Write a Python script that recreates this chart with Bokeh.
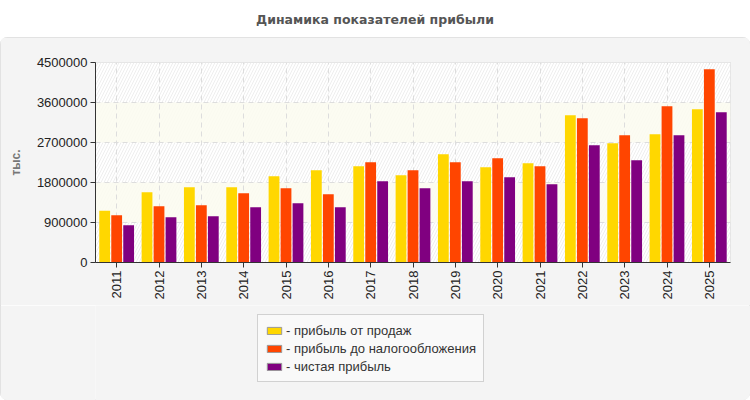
from math import pi

from bokeh.embed import file_html
from bokeh.layouts import column
from bokeh.models import (BoxAnnotation, ColumnDataSource, Div, FactorRange, FixedTicker,
                          Legend, LegendItem, NumeralTickFormatter, Range1d)
from bokeh.plotting import figure
from bokeh.resources import INLINE
from bokeh.transform import dodge

# Data (thousands)
years = [str(y) for y in range(2011, 2026)]
sales_profit = [1162500, 1582500, 1695000, 1695000, 1942500, 2077500, 2167500, 1965000,
                2437500, 2145000, 2235000, 3315000, 2685000, 2887500, 3450000]
pretax_profit = [1065000, 1267500, 1290000, 1560000, 1672500, 1537500, 2257500, 2077500,
                 2257500, 2347500, 2167500, 3247500, 2865000, 3517500, 4350000]
net_profit = [840000, 1020000, 1042500, 1245000, 1335000, 1245000, 1830000, 1672500,
              1830000, 1920000, 1762500, 2640000, 2302500, 2865000, 3382500]
y_ticks = [0, 900000, 1800000, 2700000, 3600000, 4500000]

title = "Динамика показателей прибыли"
unit_label = "тыс."
series_names = ["- прибыль от продаж", "- прибыль до налогообложения", "- чистая прибыль"]
colors = ["#FFD700", "#FF4500", "#800080"]

source = ColumnDataSource(dict(year=years, sales=sales_profit,
                               pretax=pretax_profit, net=net_profit))

FONT = "Liberation Sans"
PANEL = "#f4f4f4"

header = Div(text=title, width=750, height=37, margin=0,
             styles={"text-align": "center", "font-family": "'DejaVu Sans'",
                     "font-weight": "bold", "font-size": "12.5px", "color": "#555555",
                     "line-height": "40px", "overflow": "hidden"})

# main chart
p = figure(x_range=FactorRange(*years, range_padding=0),
           y_range=Range1d(y_ticks[0], y_ticks[-1]),
           frame_width=635, frame_height=200,
           min_border_left=95, min_border_right=20,
           min_border_top=25, min_border_bottom=43,
           output_backend="svg", toolbar_location=None)

p.border_fill_color = PANEL
p.background_fill_color = "white"
p.outline_line_color = "#dddddd"

# hatched plot background and pale bands
hatch = BoxAnnotation(fill_color="white", fill_alpha=1, line_color=None,
                      hatch_pattern="/", hatch_color="#eeeeee", hatch_scale=6,
                      hatch_weight=1, level="image")
p.add_layout(hatch)
for lo, hi in [(y_ticks[1], y_ticks[2]), (y_ticks[3], y_ticks[4])]:
    p.add_layout(BoxAnnotation(bottom=lo, top=hi, fill_color="#fcfcf0", fill_alpha=0.85,
                               line_color=None, level="image"))

bar_w = 0.255
offs = [-0.283, 0, 0.283]
for col, off, c in zip(["sales", "pretax", "net"], offs, colors):
    p.vbar(x=dodge("year", off, range=p.x_range), top=col, width=bar_w,
           source=source, fill_color=c, line_color=None)

# axes
for ax in (p.xaxis, p.yaxis):
    ax.axis_line_color = "#333333"
    ax.major_tick_line_color = "#333333"
    ax.major_tick_out = 5
    ax.major_tick_in = 0
    ax.minor_tick_line_color = None
    ax.major_label_text_font = FONT
    ax.major_label_text_font_size = "13px"
    ax.major_label_text_color = "#222222"
    ax.major_label_standoff = 3

p.yaxis.ticker = FixedTicker(ticks=y_ticks)
p.yaxis.formatter = NumeralTickFormatter(format="0")
p.yaxis.axis_label = unit_label
p.yaxis.axis_label_text_font = FONT
p.yaxis.axis_label_text_font_style = "bold"
p.yaxis.axis_label_text_font_size = "12px"
p.yaxis.axis_label_text_color = "#777777"
p.yaxis.axis_label_standoff = 11
p.xaxis.major_label_orientation = pi / 2

p.xgrid.grid_line_color = "#dddddd"
p.xgrid.grid_line_dash = "5 4"
p.ygrid.grid_line_color = "#dddddd"
p.ygrid.grid_line_dash = "5 4"

# legend strip below the chart
lf = figure(x_range=Range1d(0, 1), y_range=Range1d(0, 1),
            frame_width=750, frame_height=95,
            min_border_left=0, min_border_right=0, min_border_top=0, min_border_bottom=0,
            x_axis_type=None, y_axis_type=None,
            output_backend="svg", toolbar_location=None)
lf.grid.visible = False
lf.outline_line_color = None
lf.background_fill_color = PANEL
lf.border_fill_color = PANEL

items = []
for name, c in zip(series_names, colors):
    # zero-height bar: only provides the legend swatch
    r = lf.vbar(x=[0.5], top=[0], bottom=[0], width=0, fill_color=c, line_color="#999999")
    items.append(LegendItem(label=name, renderers=[r]))

legend = Legend(items=items, location=(257, 18), orientation="vertical",
                background_fill_color="#f9f9f9", background_fill_alpha=1,
                border_line_color="#aaaaaa", border_line_width=1,
                label_text_font=FONT, label_text_font_size="13px",
                label_text_color="#333333", label_height=16, label_standoff=3,
                glyph_width=18, glyph_height=9, spacing=2, padding=7, margin=0)
lf.add_layout(legend)

panel = column(p, lf, spacing=0,
               styles={"outline": "1px solid #dddddd", "outline-offset": "-1px",
                       "border-radius": "7px", "overflow": "hidden"})
page = column(header, panel, spacing=0)

open("out.html", "w").write(file_html(page, INLINE))
